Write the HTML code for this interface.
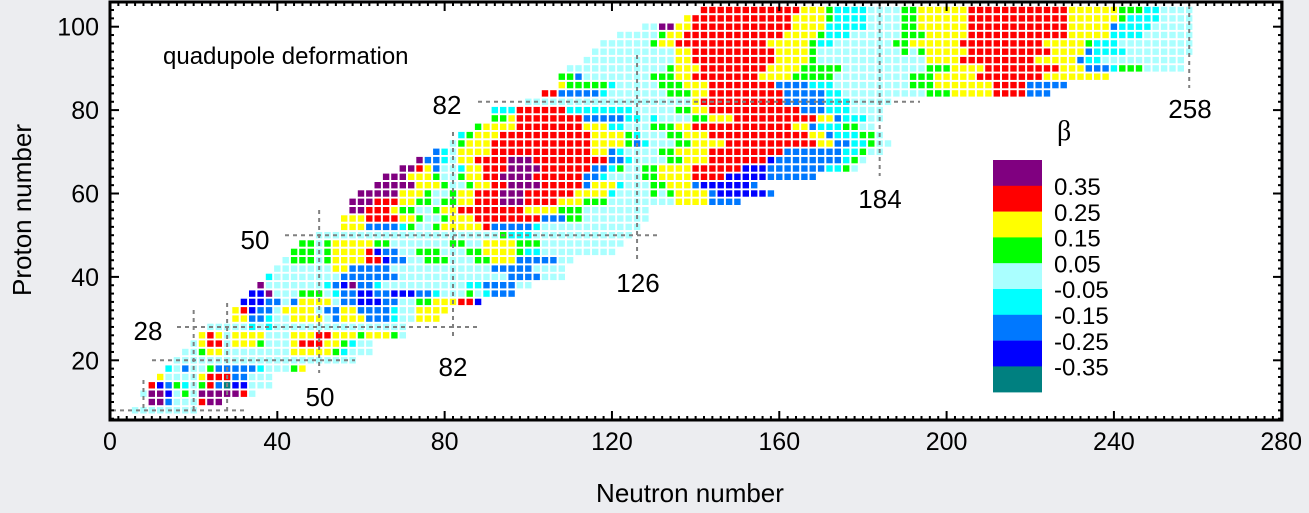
<!DOCTYPE html>
<html><head><meta charset="utf-8"><style>
html,body{margin:0;padding:0;background:#ECEDF0;}
svg{display:block;font-family:"Liberation Sans",sans-serif;}
</style></head><body>
<svg id="chart" width="1309" height="513" viewBox="0 0 1309 513">
<rect x="0" y="0" width="1309" height="513" fill="#ECEDF0"/>
<rect x="110" y="2" width="1172" height="418" fill="#fff"/>
<g id="cells"></g>
<g id="magic"></g>
<g id="ticks"></g>
<rect x="110" y="2" width="1172" height="418" fill="none" stroke="#000" stroke-width="3"/>
<text x="163" y="64" font-size="24">quadupole deformation</text>
<text x="690" y="502" font-size="26" text-anchor="middle">Neutron number</text>
<text transform="translate(31,210) rotate(-90)" font-size="26" text-anchor="middle">Proton number</text>
<g id="legend">
<text x="1057" y="140" font-size="28" font-family="Liberation Serif,serif">β</text>
</g>
</svg>
<script>
const categoriesZ = [104,102,100,98,96,94,92,90,88,86,84,82,80,78,76,74,72,70,68,66,64,62,60,58,56,54,52,50,48,46,44,42,40,38,36,34,32,30,28,26,24,22,20,18,16,14,12,10,8];
const rowStartN = [142,138,128,122,118,116,114,110,108,108,104,100,92,92,88,84,82,78,74,70,66,64,60,58,58,56,56,50,46,44,42,40,38,36,34,32,30,30,24,22,20,18,16,14,12,10,8,10,6];
const rowValues = [
"R12Y3G1C4L4G2Y6R12Y6G3C2L4",
"Y1R12Y4G1C4L4G2Y6R12Y6G1C4L4",
"L2P2Y2R12Y4C5L4G2Y6R12Y5B1C4L5",
"L5G1Y2R12Y4G1C3L6G3Y5R12Y5C4L6",
"L6G1Y2R11Y5G1C2L7G2Y6R10Y5G1C3L9",
"L10Y2R10Y4G1L10G1L1G1Y5R10Y4B1C4L8",
"L11Y2R10Y4G1L13Y4R9Y5B1C2L10",
"L12G1Y3R8Y4G5L10G3Y4R9Y3B3C1G3L5",
"G2B1L8G3Y2R8Y4G5L9G3Y5R8Y8",
"Y1G5C1L5G3Y3R8B4C3L9G3Y7R4B5",
"R2B5C1L7G3Y2R9B5C2L10G3Y5R4B3",
"L20Y1R10B5C3L5",
"C3R6C8L5G2Y2R11B3C3L4",
"G2Y1R8B5C2L1C1L4G2Y3R10Y2B1C3L2",
"G1Y4R8Y3C2L3G3Y2R12Y2B1C3G2L2",
"C1G1Y3R11Y4G1C1L3G2Y3R12Y2B1C3G2L1",
"L1G1Y3R12Y4G1B1C1L3G2Y4R11Y2B2C2G1L2",
"B1C1L1Y4R12Y2B1C1L4G2Y4R9B7C2G1L2",
"P1B2C1L1Y2R4P3R9B2C1L4G2Y3R7D1B8C1G1L1",
"P2R1Y1B1L2C1Y2R3P4R6B2C1G1L2G2Y4R6D3B7C2G1L1",
"P3Y3G1L2G1Y2R2P4R6B2C1L4G2Y4R4D5B6",
"P5Y3G1L2G1Y2R2P4R5B1Y3C1L3G2Y3B1D6B1",
"P5Y3G1L2G1Y2R3P3R6Y4C1L4G1L1G1Y4B1D6B1",
"P3R3Y2G2L1G2Y2R3P3R4Y3G3L8Y4B4",
"P2R3Y1G2L2G1Y2R8Y4G3L8",
"Y3R4Y2G1L2G1Y3R8B3G2L8",
"Y3B4C1G1L2G1Y5R1B5C1L12",
"L22G1C3L12",
"G2L1G1Y5G2L7G2L2Y4G3L10",
"G3L1G1Y4R1D1B2L2G3L3G2Y4G1C2L9",
"L1G3L1G1Y4R2D1B2L2G3L3G2Y3B5L2",
"L7Y2B5L12B5L4",
"C1L8B7L13B4L3",
"P1L7C1B1D1P1B2C1L10C2B4L2",
"D2P1L3G3L1C1B2D2B2D3B2C1L3G1L1C1B3",
"D3B2L1B1Y4L1B2D3B2L2G2Y3R2D1",
"Y1R1D1B2L1Y4L1B2Y2B4C1L2Y4",
"Y2B2C1L2Y4L1B1Y3B3C1L2Y3",
"L5C1L1C1L16",
"Y1R1Y1L1Y4L3Y3R2Y3G1Y1Y2G1L1",
"L1Y1R2L1Y3G1L3Y1R3Y2G1C1L2",
"L2G1Y2L8Y5G1C1L3",
"L22",
"C1L1B1L2G1B5C1L3G1Y1",
"Y1L4Y1R3B2L3",
"R1D1B1G1C1L1G1R1B1T1D2L3",
"L1P2D1L1G1L1P5R1L1",
"P2B1L3R1P2",
"L8"
];
const colorKeys = ["P","R","Y","G","L","C","B","D","T"];
const colorHex = ["#800080","#FF0000","#FFFF00","#00FF00","#AAFFFF","#00FFFF","#0078FF","#0000FF","#008080"];
const legendLabels = ["0.35","0.25","0.15","0.05","-0.05","-0.15","-0.25","-0.35"];
const xTicks = [0,40,80,120,160,200,240,280];
const yTicks = [20,40,60,80,100];
const magicN = [8,20,28,50,82,126,184,258];
const magicZ = [8,20,28,50,82];

const NS="http://www.w3.org/2000/svg";
function xs(n){return 110+n*4.183;}
function ys(z){return 26.7+(100-z)*4.17;}
function mk(tag,attrs,parent){const e=document.createElementNS(NS,tag);for(const k in attrs)e.setAttribute(k,attrs[k]);parent.appendChild(e);return e;}

const cellsG=document.getElementById('cells');
categoriesZ.forEach((z,i)=>{
  let n=rowStartN[i];
  const re=/([A-Z])(\d+)/g;let m;
  while((m=re.exec(rowValues[i]))){
    const col=colorHex[colorKeys.indexOf(m[1])];
    for(let k=0;k<+m[2];k++){
      const r=mk('rect',{x:(xs(n)-3.2).toFixed(1),y:(ys(z)-3.2).toFixed(1),width:6.4,height:6.4,fill:col},cellsG);
      
      
      n+=2;
    }
  }
});

const mg=document.getElementById('magic');
const vLines=[[8,380,412],[20,310,412],[28,303,412],[50,210,373],[82,132,338],[126,55,263],[184,5,176],[258,5,88]];
vLines.forEach(v=>{const l=mk('line',{x1:xs(v[0]),x2:xs(v[0]),y1:v[1],y2:v[2],stroke:'#808080','stroke-width':2,'stroke-dasharray':'4,4'},mg);

});
const hLines=[[8,112,245],[20,152,355],[28,177,480],[50,285,660],[82,478,920]];
hLines.forEach(h=>{const l=mk('line',{x1:h[1],x2:h[2],y1:ys(h[0]),y2:ys(h[0]),stroke:'#808080','stroke-width':2,'stroke-dasharray':'4,4'},mg);

});
const magicLabels=[["28",148,340],["50",255,249],["82",447,114],["50",320,406],["82",453,376],["126",638,292],["184",880,208],["258",1190,118]];
magicLabels.forEach(t=>{const e=mk('text',{x:t[1],y:t[2],'font-size':26,'text-anchor':'middle'},mg);e.textContent=t[0];

});

const tg=document.getElementById('ticks');
for(let n=0;n<=280;n+=2){const major=n%40===0;const L=major?9:4;
 mk('line',{x1:xs(n),x2:xs(n),y1:420,y2:420-L,stroke:'#000','stroke-width':2},tg);
 mk('line',{x1:xs(n),x2:xs(n),y1:2,y2:2+(major?9:4),stroke:'#000','stroke-width':2},tg);}
for(let z=6;z<=104;z+=2){const major=z%20===0;const L=major?9:4;
 mk('line',{x1:110,x2:110+L,y1:ys(z),y2:ys(z),stroke:'#000','stroke-width':2},tg);
 mk('line',{x1:1282,x2:1282-L,y1:ys(z),y2:ys(z),stroke:'#000','stroke-width':2},tg);}
xTicks.forEach(v=>{const e=mk('text',{x:xs(v),y:450,'font-size':25,'text-anchor':'middle'},tg);e.textContent=v;

});
yTicks.forEach(v=>{const e=mk('text',{x:99,y:ys(v)+9,'font-size':25,'text-anchor':'end'},tg);e.textContent=v;

});

const lg=document.getElementById('legend');
const order=["P","R","Y","G","L","C","B","D","T"];
order.forEach((k,i)=>{const r=mk('rect',{x:993,y:160+i*25.8,width:49,height:26,fill:colorHex[colorKeys.indexOf(k)]},lg);

});
legendLabels.forEach((t,i)=>{const e=mk('text',{x:1054,y:195+i*25.8,'font-size':24},lg);e.textContent=t;

});
</script>
</body></html>
